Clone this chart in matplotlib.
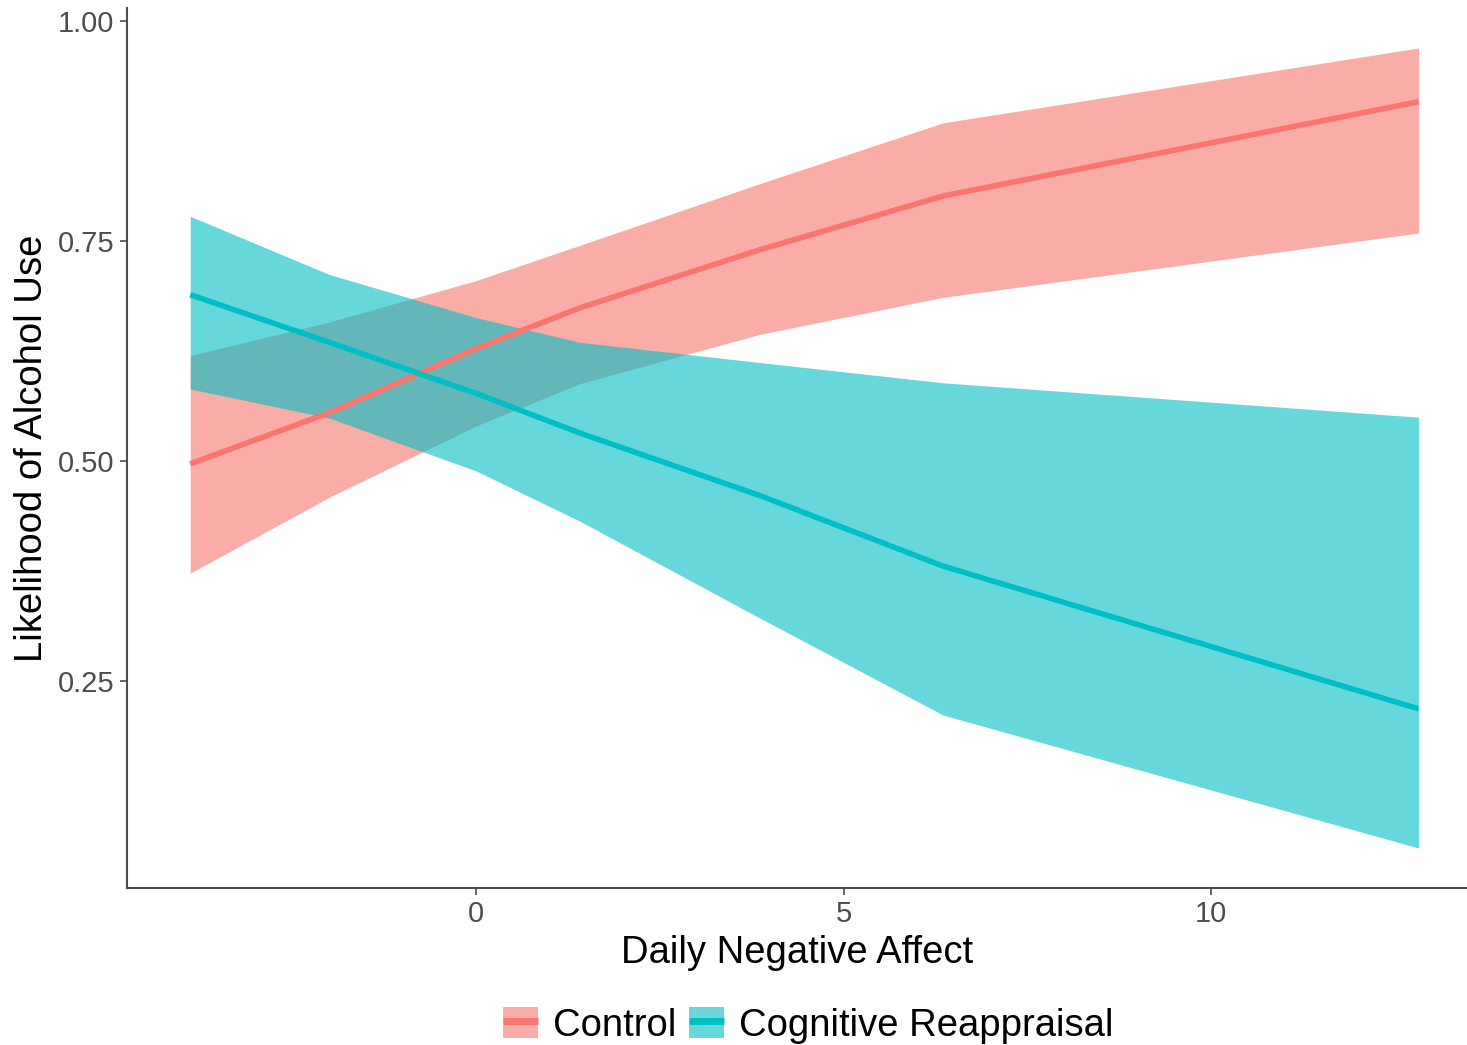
import numpy as np
import matplotlib.pyplot as plt
from matplotlib.patches import Patch
from matplotlib.lines import Line2D

plt.rcParams['font.family'] = ['Liberation Sans', 'DejaVu Sans']

# predicted values (ggeffects-style plot)
affect = [-3.89, -2.0, 0.0, 1.41, 3.86, 6.35, 12.82]

control_fit = [0.497, 0.555, 0.628, 0.674, 0.740, 0.801, 0.908]
control_low = [0.373, 0.459, 0.540, 0.588, 0.644, 0.686, 0.759]
control_high = [0.620, 0.658, 0.705, 0.745, 0.815, 0.884, 0.969]

reapp_fit = [0.689, 0.635, 0.577, 0.532, 0.461, 0.381, 0.219]
reapp_low = [0.582, 0.549, 0.489, 0.432, 0.322, 0.212, 0.061]
reapp_high = [0.778, 0.712, 0.663, 0.635, 0.612, 0.589, 0.550]

groups = ['Control', 'Cognitive Reappraisal']
colors = ['#F8766D', '#00BFC4']


def plot_chart():
    fig = plt.figure(figsize=(14.67, 10.45), dpi=100)
    ax = fig.add_axes([127 / 1467, 157 / 1045, 1340 / 1467, 880 / 1045])

    series = [(control_fit, control_low, control_high),
              (reapp_fit, reapp_low, reapp_high)]
    handles = []
    for (fit, low, high), col, name in zip(series, colors, groups):
        ax.fill_between(affect, low, high, color=col, alpha=0.6, linewidth=0)
        ax.plot(affect, fit, color=col, linewidth=4, solid_capstyle='butt')
        handles.append((Patch(facecolor=col, alpha=0.6, linewidth=0),
                        Line2D([], [], color=col, linewidth=5,
                               solid_capstyle='butt')))

    ax.set_xlim(-4.75, 13.48)
    ax.set_ylim(0.0156, 1.0144)
    ax.set_xticks([0, 5, 10])
    ax.set_yticks([0.25, 0.5, 0.75, 1.0])
    ax.set_yticklabels(['0.25', '0.50', '0.75', '1.00'])

    for side in ['top', 'right']:
        ax.spines[side].set_visible(False)
    for side in ['left', 'bottom']:
        ax.spines[side].set_color('#4D4D4D')
        ax.spines[side].set_linewidth(1.5)

    ax.tick_params(axis='both', length=5, width=1.2, color='#4D4D4D',
                   labelsize=21, labelcolor='#4D4D4D', pad=4)

    ax.set_xlabel('Daily Negative Affect', fontsize=27.5, labelpad=5)
    ax.set_ylabel('Likelihood of Alcohol Use', fontsize=27.5, labelpad=6)

    fig.legend(handles, groups, loc='center', bbox_to_anchor=(0.551, 0.019),
               ncol=2, frameon=False, fontsize=27.5, handlelength=0.9,
               handleheight=0.9, handletextpad=0.4, columnspacing=0.35)

    fig.savefig('out.png', dpi=100)


plot_chart()
